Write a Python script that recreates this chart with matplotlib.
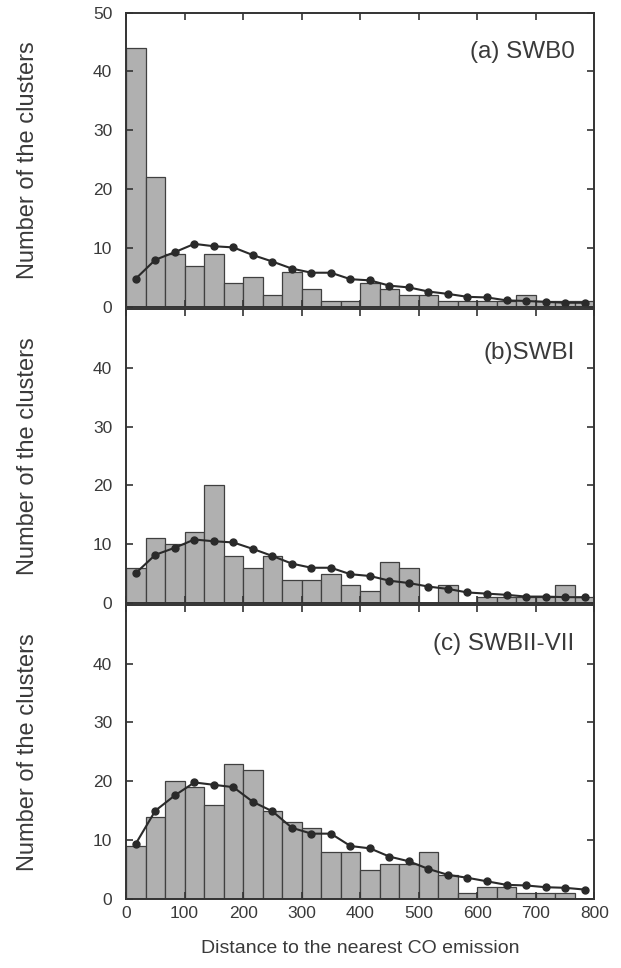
import numpy as np
import matplotlib.pyplot as plt

# histogram counts per bin (24 bins from 0 to 800)
bin_edges = np.linspace(0, 800, 25)
counts_a = [44, 22, 9, 7, 9, 4, 5, 2, 6, 3, 1, 1, 4, 3, 2, 2, 1, 1, 1, 1, 2, 1, 1, 1]
counts_b = [6, 11, 10, 12, 20, 8, 6, 8, 4, 4, 5, 3, 2, 7, 6, 0, 3, 0, 1, 1, 1, 1, 3, 1]
counts_c = [9, 14, 20, 19, 16, 23, 22, 15, 13, 12, 8, 8, 5, 6, 6, 8, 4, 1, 2, 2, 1, 1, 1, 0]

# model curves at bin centres
curve_a = [4.8, 8.0, 9.3, 10.7, 10.3, 10.1, 8.8, 7.7, 6.5, 5.8, 5.8, 4.7,
           4.5, 3.6, 3.3, 2.6, 2.2, 1.7, 1.6, 1.1, 1.0, 0.85, 0.7, 0.7]
curve_b = [5.1, 8.2, 9.4, 10.8, 10.5, 10.3, 9.2, 8.0, 6.7, 6.0, 6.0, 4.9,
           4.6, 3.8, 3.4, 2.8, 2.4, 1.8, 1.6, 1.4, 1.1, 1.1, 1.0, 1.0]
curve_c = [9.4, 15.0, 17.6, 19.8, 19.4, 19.0, 16.5, 14.9, 12.1, 11.1, 11.1, 9.0,
           8.6, 7.2, 6.4, 5.1, 4.1, 3.6, 3.0, 2.4, 2.3, 2.0, 1.9, 1.6]

labels = ["(a) SWB0", "(b)SWBI", "(c) SWBII-VII"]
label_y = [0.867, 0.85, 0.868]
x_ticks = [0, 100, 200, 300, 400, 500, 600, 700, 800]

plt.rcParams['font.family'] = ['Liberation Sans', 'DejaVu Sans']
text_col = '#3a3a3a'
frame_col = '#333333'

fig = plt.figure(figsize=(6.21, 9.68), dpi=100)
left, width = 0.203, 0.754
bottoms = [0.683, 0.377, 0.0713]
height = 0.304

width_bin = bin_edges[1] - bin_edges[0]
centres = bin_edges[:-1] + width_bin / 2

for i, (counts, curve, lab) in enumerate(zip([counts_a, counts_b, counts_c],
                                             [curve_a, curve_b, curve_c], labels)):
    ax = fig.add_axes([left, bottoms[i], width, height])
    ax.bar(bin_edges[:-1], counts, width=width_bin, align='edge',
           color='#b0b0b0', edgecolor='#404040', linewidth=0.9)
    ax.plot(centres, curve, '-o', color='#2a2a2a', lw=1.5, ms=5)
    ax.set_xlim(0, 800)
    ax.set_ylim(0, 50)
    ax.set_xticks(x_ticks)
    if i == 0:
        ax.set_yticks([0, 10, 20, 30, 40, 50])
    else:
        ax.set_yticks([0, 10, 20, 30, 40])
    ax.tick_params(direction='in', top=True, right=True, length=5, width=1.2,
                   colors=frame_col, labelcolor=text_col, labelsize=12.5)
    ax.tick_params(axis='y', pad=10)
    ax.tick_params(axis='x', pad=5)
    if i < 2:
        ax.tick_params(labelbottom=False)
    for sp in ax.spines.values():
        sp.set_color(frame_col)
        sp.set_linewidth(1.4)
    ax.text(0.958, label_y[i], lab, transform=ax.transAxes, ha='right', va='center',
            fontsize=17.5, color=text_col)
    ax.set_ylabel("Number of the clusters", fontsize=17, color=text_col, labelpad=39)
    if i == 2:
        ax.set_xlabel("Distance to the nearest CO emission", fontsize=14,
                      color=text_col, labelpad=14)

fig.savefig("out.png", dpi=100)
